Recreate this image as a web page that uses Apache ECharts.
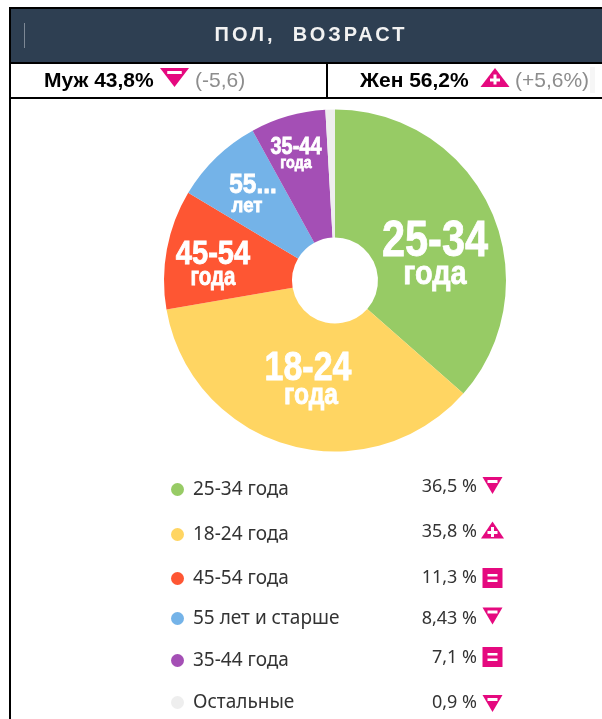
<!DOCTYPE html>
<html>
<head>
<meta charset="utf-8">
<style>
html, body { margin: 0; padding: 0; background: #fff; }
#main { width: 602px; height: 719px; }
</style>
<script src="https://cdn.jsdelivr.net/npm/echarts@6/dist/echarts.min.js"></script>
</head>
<body>
<div id="main"></div>
<script>
var categories = ['25-34 года', '18-24 года', '45-54 года', '55 лет и старше', '35-44 года', 'Остальные'];
var shares = [36.5, 35.8, 11.3, 8.43, 7.1, 0.9];
var shareLabels = ['36,5 %', '35,8 %', '11,3 %', '8,43 %', '7,1 %', '0,9 %'];
var trends = ['down', 'up', 'same', 'down', 'same', 'down'];
var sliceColors = ['#97cb65', '#ffd562', '#fe5633', '#74b3e8', '#a44fb5', '#eeeeee'];
var sliceTop = ['25-34', '18-24', '45-54', '55...', '35-44'];
var sliceBottom = ['года', 'года', 'года', 'лет', 'года'];

// layout
var legendY = [489, 534, 578, 618, 660, 702];
var percentY = [487, 532, 578, 619, 658, 703];
var iconY = [485.5, 530, 578, 616, 657, 703.5];
// x, y, font size, horizontal squeeze
var topLabelPos = [[435, 242, 50, 0.83], [308, 369, 40, 0.85], [213, 255, 33, 0.88], [253, 186, 27, 0.9], [296, 147, 24, 0.83]];
var bottomLabelPos = [[435, 275, 34, 0.85], [311, 396, 29, 0.85], [213, 278, 25, 0.82], [247, 206, 20, 0.93], [296, 163, 17, 0.84]];
var pink = '#e5097f';

function bar(x, y, w, h) {
    return { type: 'rect', shape: { x: x, y: y, width: w, height: h }, style: { fill: '#fff' } };
}

function trendIcon(kind, x, y, w, h) {
    if (kind === 'down') {
        return [
            { type: 'polygon', shape: { points: [[x - w / 2, y - h / 2], [x + w / 2, y - h / 2], [x, y + h / 2]] }, style: { fill: pink } },
            bar(x - w / 4, y - h / 2 + 3, w / 2, 3)
        ];
    }
    if (kind === 'up') {
        return [
            { type: 'polygon', shape: { points: [[x - w / 2, y + h / 2], [x + w / 2, y + h / 2], [x, y - h / 2]] }, style: { fill: pink } },
            bar(x - 5, y + 1, 10, 3),
            bar(x - 1.5, y - 3, 3, 10)
        ];
    }
    return [
        { type: 'rect', shape: { x: x - 10, y: y - 10, width: 20, height: 20 }, style: { fill: pink } },
        bar(x - 5, y - 4, 10, 2.5),
        bar(x - 5, y + 1.5, 10, 2.5)
    ];
}

var graphics = [
    { type: 'rect', shape: { x: 10, y: 9, width: 592, height: 53 }, style: { fill: '#2e3f52' } },
    { type: 'rect', shape: { x: 9, y: 7, width: 593, height: 2 }, style: { fill: '#000' } },
    { type: 'rect', shape: { x: 9, y: 62, width: 593, height: 2 }, style: { fill: '#000' } },
    { type: 'rect', shape: { x: 9, y: 97, width: 593, height: 2 }, style: { fill: '#000' } },
    { type: 'rect', shape: { x: 9, y: 7, width: 2, height: 712 }, style: { fill: '#000' } },
    { type: 'rect', shape: { x: 326, y: 62, width: 2, height: 36 }, style: { fill: '#000' } },
    { type: 'rect', shape: { x: 24, y: 23, width: 1, height: 25 }, style: { fill: '#7d8895' } },
    { type: 'rect', shape: { x: 590, y: 67, width: 5, height: 26 }, style: { fill: '#f6f6f6' } },
    { type: 'text', x: 44, y: 81, style: { text: 'Муж 43,8%', fill: '#000', font: 'bold 21px "Liberation Sans"', verticalAlign: 'middle' } },
    { type: 'text', x: 195, y: 81, style: { text: '(-5,6)', fill: '#8d8d8d', font: '21px "Liberation Sans"', verticalAlign: 'middle' } },
    { type: 'text', x: 360, y: 81, style: { text: 'Жен 56,2%', fill: '#000', font: 'bold 21px "Liberation Sans"', verticalAlign: 'middle' } },
    { type: 'text', x: 515, y: 81, style: { text: '(+5,6%)', fill: '#8d8d8d', font: '21px "Liberation Sans"', verticalAlign: 'middle' } }
].concat(trendIcon('down', 174.5, 77.5, 29, 19), trendIcon('up', 495, 77.5, 29, 19));

var legends = [];
categories.forEach(function (name, i) {
    legends.push({
        data: [name],
        left: 171,
        top: legendY[i] - 9,
        padding: 0,
        icon: 'circle',
        itemWidth: 13,
        itemHeight: 13,
        itemGap: 0,
        selectedMode: false,
        textStyle: { fontFamily: '"Noto Sans"', fontSize: 19, color: '#333', padding: [0, 0, 0, 4] }
    });
    graphics.push({
        type: 'text', x: 477, y: percentY[i],
        style: { text: shareLabels[i], fill: '#333', font: '18px "Noto Sans"', align: 'right', verticalAlign: 'middle' }
    });
    var w = trends[i] === 'up' ? 23 : 20;
    graphics = graphics.concat(trendIcon(trends[i], 492.5, iconY[i], w, 17));
});
graphics.forEach(function (g) { g.z = -1; });

function sliceText(text, pos) {
    return {
        type: 'text', x: pos[0], y: pos[1], scaleX: pos[3], z: 20,
        style: { text: text, fill: '#fff', stroke: '#fff', lineWidth: 0.8, font: 'bold ' + pos[2] + 'px "Liberation Sans"', align: 'center', verticalAlign: 'middle' }
    };
}
sliceTop.forEach(function (text, i) {
    graphics.push(sliceText(text, topLabelPos[i]));
    graphics.push(sliceText(sliceBottom[i], bottomLabelPos[i]));
});

// the title sits on its own layer so only it gets the letter spacing
graphics.push({
    type: 'text', x: 311, y: 35.5, zlevel: 5,
    style: { text: 'ПОЛ,  ВОЗРАСТ', fill: '#f2f2f2', font: 'bold 20px "Liberation Sans"', align: 'center', verticalAlign: 'middle' }
});

var pieData = categories.map(function (name, i) {
    return { name: name, value: shares[i], itemStyle: { color: sliceColors[i] } };
});

var chart = echarts.init(document.getElementById('main'), null, { renderer: 'canvas' });
var titleLayer = chart.getZr().painter.getLayer(5);
titleLayer.ctx.letterSpacing = '3px';

chart.setOption({
    animation: false,
    backgroundColor: '#fff',
    legend: legends,
    graphic: { elements: graphics },
    series: [{
        type: 'pie',
        center: [335, 280.5],
        radius: [43, 171],
        startAngle: 90,
        clockwise: true,
        label: { show: false },
        labelLine: { show: false },
        data: pieData
    }]
});
</script>
</body>
</html>
